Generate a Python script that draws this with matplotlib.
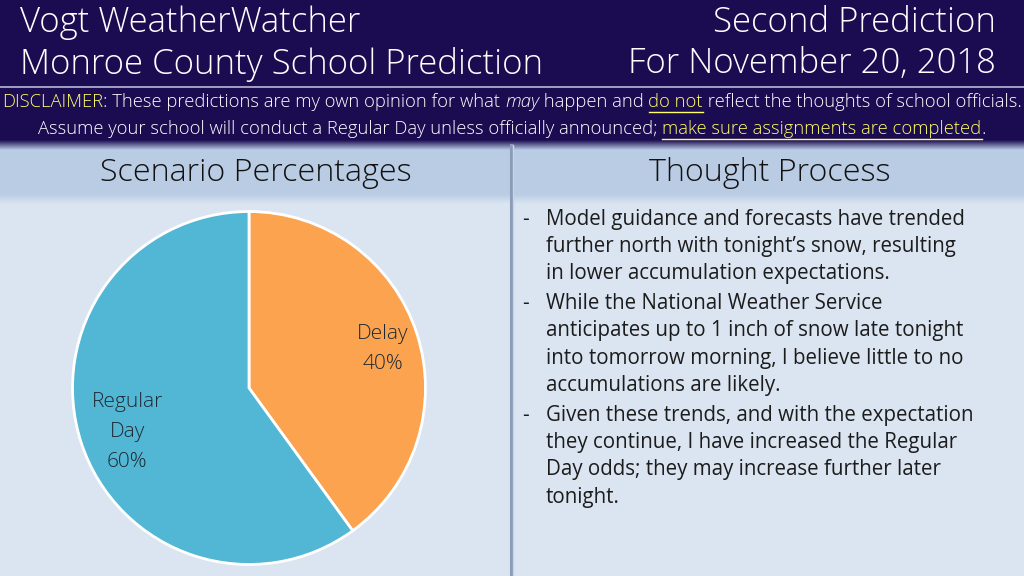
import matplotlib
matplotlib.use('Agg')
import matplotlib.pyplot as plt
import numpy as np
from matplotlib.patches import Rectangle
from matplotlib.colors import LinearSegmentedColormap

# chart data
scenarios = ['Delay', 'Regular\nDay']
percents = [40, 60]
slice_colors = ['#fba34f', '#52b6d5']

title_left = ['Vogt WeatherWatcher', 'Monroe County School Prediction']
title_right = ['Second Prediction', 'For November 20, 2018']

bullets = [
    ['Model guidance and forecasts have trended',
     'further north with tonight\u2019s snow, resulting',
     'in lower accumulation expectations.'],
    ['While the National Weather Service',
     'anticipates up to 1 inch of snow late tonight',
     'into tomorrow morning, I believe little to no',
     'accumulations are likely.'],
    ['Given these trends, and with the expectation',
     'they continue, I have increased the Regular',
     'Day odds; they may increase further later',
     'tonight.'],
]

# (text, color, italic, underline)
disclaimer1 = [('DISCLAIMER', '#ffff66', False, False),
               (': These predictions are my own opinion for what ', 'white', False, False),
               ('may', 'white', True, False),
               (' happen and ', 'white', False, False),
               ('do not', '#ffff66', False, True),
               (' reflect the thoughts of school officials.', 'white', False, False)]
disclaimer2 = [('Assume your school will conduct a Regular Day unless officially announced; ', 'white', False, False),
               ('make sure assignments are completed', '#ffff66', False, True),
               ('.', 'white', False, False)]

W, H = 1024, 576
plt.rcParams['font.family'] = ['Open Sans', 'DejaVu Sans']
plt.rcParams['font.weight'] = 'light'
fig = plt.figure(figsize=(10.24, 5.76), dpi=100)
bg = fig.add_axes([0, 0, 1, 1])
bg.axis('off')

navy = '#1b0c52'
bg.add_patch(Rectangle((0, 0), W, 142, color=navy, zorder=0))
bg.add_patch(Rectangle((0, 142), W, 56, color='#b9cce4', zorder=0))
bg.add_patch(Rectangle((0, 198), W, H - 198, color='#dbe5f1', zorder=0))
# shadow under header
grad = np.linspace(0, 1, 50).reshape(-1, 1)
cm = LinearSegmentedColormap.from_list('sh', [navy, '#b9cce4'])
bg.imshow(grad, extent=(0, W, 150, 140), cmap=cm, aspect='auto', zorder=1)
cm2 = LinearSegmentedColormap.from_list('sh2', ['#b9cce4', '#dbe5f1'])
bg.imshow(grad, extent=(0, W, 204, 194), cmap=cm2, aspect='auto', zorder=1)
bg.set_xlim(0, W)
bg.set_ylim(H, 0)
bg.plot([0, W], [87, 87], color='#b8b8d8', lw=1.2, zorder=2)
bg.plot([511, 511], [145, H], color='#8c9cb6', lw=2.2, zorder=2)
bg.plot([513, 513], [145, H], color='#c8d4e4', lw=1, zorder=2)

# header titles
for i, s in enumerate(title_left):
    bg.text(20, 23 + i * 41, s, color='white', fontsize=25, va='center', ha='left', zorder=3)
for i, s in enumerate(title_right):
    bg.text(996, 23 + i * 41, s, color='white', fontsize=25, va='center', ha='right', zorder=3)

# disclaimer lines, built piece by piece
fig.canvas.draw()
r = fig.canvas.get_renderer()


def draw_line(parts, y, fs=13.2):
    pieces = []
    total = 0
    for txt, col, ital, und in parts:
        t = bg.text(0, y, txt, color=col, fontsize=fs, va='center', ha='left',
                    style='italic' if ital else 'normal', zorder=3)
        w = t.get_window_extent(r).width
        pieces.append((t, w, und, col))
        total += w
    x0 = (W - total) / 2
    for t, w, und, col in pieces:
        t.set_x(x0)
        if und:
            bg.plot([x0, x0 + w], [y + 10, y + 10], color=col, lw=1, zorder=3)
        x0 += w


draw_line(disclaimer1, 102)
draw_line(disclaimer2, 129)

# section headers
bg.text(256, 173, 'Scenario Percentages', fontsize=23.2, color='#111111', ha='center', va='center', zorder=3)
bg.text(770, 173, 'Thought Process', fontsize=23.2, color='#111111', ha='center', va='center', zorder=3)

# bullets
y = 219
for group in bullets:
    for j, line in enumerate(group):
        if j == 0:
            bg.text(522, y, '-', fontsize=14.8, color='#1c1c1c', ha='left', va='center',
                    fontweight='normal', zorder=3)
        bg.text(546, y, line, fontsize=14.8, color='#1c1c1c', ha='left', va='center',
                fontweight='normal', zorder=3)
        y += 27.3
    y += 2.5

# pie
cx, cy, rad = 249, 388, 180
pax = fig.add_axes([(cx - rad) / W, (H - cy - rad) / H, 2 * rad / W, 2 * rad / H])
wedges, _ = pax.pie(percents, colors=slice_colors, startangle=90, counterclock=False,
                    wedgeprops=dict(edgecolor='white', linewidth=2), radius=1)
pax.set_xlim(-1.02, 1.02)
pax.set_ylim(-1.02, 1.02)
label_pos = [(0.76, 0.22), (-0.69, -0.25)]
for name, p, (lx, ly) in zip(scenarios, percents, label_pos):
    pax.text(lx, ly, f'{name}\n{p}%', ha='center', va='center', fontsize=15,
             color='#1e2a33', linespacing=1.65)

fig.savefig('out.png', dpi=100)
